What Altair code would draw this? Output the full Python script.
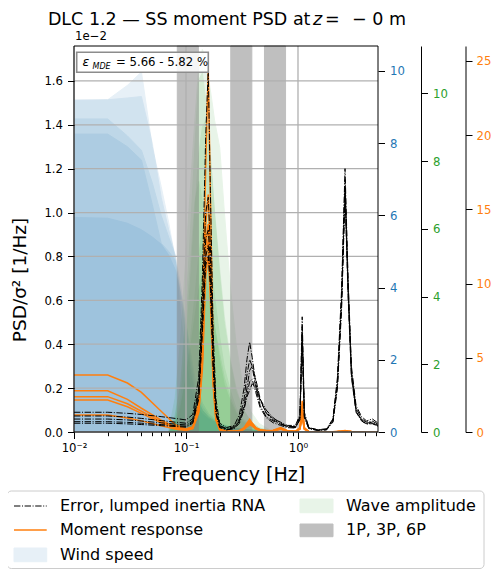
import altair as alt
import pandas as pd

FONT = "DejaVu Sans"
BLUE = "#1f77b4"
GREEN = "#2ca02c"
ORANGE = "#ff7f0e"

# ---------------- data ----------------
# frequency grid of the moment / error spectra [Hz]
F = [0.010, 0.020, 0.030, 0.040, 0.060, 0.080, 0.100, 0.115, 0.130, 0.140,
     0.150, 0.158, 0.165, 0.175, 0.185, 0.200, 0.230, 0.270, 0.300, 0.330,
     0.350, 0.370, 0.390, 0.420, 0.460, 0.520, 0.600, 0.700, 0.800, 0.950,
     1.040, 1.090, 1.140, 1.250, 1.500, 1.800, 2.050, 2.250, 2.450, 2.630,
     2.800, 3.000, 3.300, 3.700, 4.100, 4.600, 5.200]

# Error, lumped inertia RNA  (PSD/sigma^2, units of 1e-2 1/Hz)
ERR1 = [0.090, 0.090, 0.085, 0.080, 0.070, 0.062, 0.055, 0.080, 0.250, 0.700,
        1.350, 1.650, 1.100, 0.450, 0.150, 0.040, 0.020, 0.030, 0.080, 0.200,
        0.330, 0.410, 0.340, 0.220, 0.140, 0.090, 0.060, 0.045, 0.030, 0.030,
        0.080, 0.525, 0.090, 0.020, 0.010, 0.015, 0.060, 0.250, 0.650, 1.200,
        0.700, 0.300, 0.120, 0.070, 0.050, 0.060, 0.040]
ERR2 = [0.073, 0.073, 0.068, 0.062, 0.052, 0.045, 0.040, 0.060, 0.200, 0.600,
        1.000, 1.070, 0.850, 0.380, 0.120, 0.030, 0.015, 0.025, 0.060, 0.150,
        0.260, 0.330, 0.300, 0.200, 0.120, 0.070, 0.050, 0.035, 0.025, 0.025,
        0.070, 0.480, 0.080, 0.020, 0.010, 0.012, 0.055, 0.230, 0.620, 1.150,
        0.680, 0.280, 0.110, 0.060, 0.045, 0.050, 0.035]
ERR3 = [0.059, 0.059, 0.055, 0.050, 0.042, 0.036, 0.032, 0.050, 0.180, 0.520,
        0.880, 0.920, 0.780, 0.350, 0.110, 0.028, 0.012, 0.020, 0.050, 0.120,
        0.200, 0.280, 0.300, 0.240, 0.150, 0.085, 0.055, 0.038, 0.025, 0.022,
        0.065, 0.450, 0.075, 0.018, 0.008, 0.012, 0.050, 0.220, 0.600, 1.120,
        0.660, 0.270, 0.100, 0.055, 0.040, 0.045, 0.030]
ERR4 = [0.047, 0.047, 0.044, 0.040, 0.034, 0.029, 0.026, 0.045, 0.160, 0.480,
        0.800, 0.850, 0.700, 0.300, 0.090, 0.022, 0.010, 0.015, 0.040, 0.100,
        0.170, 0.230, 0.240, 0.180, 0.110, 0.065, 0.042, 0.030, 0.020, 0.018,
        0.060, 0.420, 0.070, 0.016, 0.008, 0.010, 0.048, 0.210, 0.580, 1.100,
        0.640, 0.260, 0.095, 0.050, 0.038, 0.040, 0.028]
ERR5 = [0.040, 0.040, 0.037, 0.034, 0.029, 0.025, 0.022, 0.040, 0.150, 0.450,
        0.760, 0.800, 0.660, 0.280, 0.085, 0.020, 0.010, 0.018, 0.050, 0.110,
        0.160, 0.190, 0.220, 0.200, 0.150, 0.100, 0.065, 0.040, 0.025, 0.020,
        0.055, 0.400, 0.065, 0.015, 0.007, 0.010, 0.045, 0.200, 0.560, 1.080,
        0.620, 0.250, 0.090, 0.050, 0.036, 0.038, 0.026]

# Moment response (orange axis)
MOM1 = [3.84, 3.84, 3.30, 2.67, 1.40, 0.50, 0.20, 0.35, 2.00, 7.00,
        18.0, 24.4, 16.0, 5.00, 1.20, 0.20, 0.05, 0.05, 0.10, 0.30,
        0.60, 0.85, 0.60, 0.30, 0.15, 0.10, 0.12, 0.30, 0.10, 0.05,
        0.30, 2.10, 0.30, 0.03, 0.01, 0.01, 0.02, 0.04, 0.06, 0.10,
        0.06, 0.03, 0.02, 0.01, 0.01, 0.01, 0.01]
MOM2 = [2.78, 2.78, 2.20, 1.60, 0.80, 0.35, 0.18, 0.30, 1.60, 5.50,
        14.0, 16.0, 12.0, 4.00, 1.00, 0.18, 0.05, 0.05, 0.08, 0.25,
        0.50, 0.70, 0.55, 0.28, 0.14, 0.09, 0.10, 0.25, 0.08, 0.04,
        0.25, 1.60, 0.25, 0.03, 0.01, 0.01, 0.02, 0.03, 0.05, 0.08,
        0.05, 0.03, 0.02, 0.01, 0.01, 0.01, 0.01]
MOM3 = [2.38, 2.38, 1.90, 1.40, 0.70, 0.30, 0.15, 0.28, 1.50, 5.00,
        12.5, 14.0, 10.5, 3.60, 0.90, 0.16, 0.04, 0.04, 0.07, 0.22,
        0.45, 0.62, 0.50, 0.25, 0.12, 0.08, 0.09, 0.22, 0.07, 0.04,
        0.22, 1.30, 0.22, 0.02, 0.01, 0.01, 0.02, 0.03, 0.05, 0.07,
        0.05, 0.03, 0.02, 0.01, 0.01, 0.01, 0.01]
MOM4 = [2.15, 2.15, 1.70, 1.25, 0.62, 0.27, 0.14, 0.25, 1.40, 4.60,
        11.5, 13.0, 9.80, 3.30, 0.85, 0.15, 0.04, 0.04, 0.07, 0.20,
        0.40, 0.55, 0.45, 0.22, 0.11, 0.07, 0.08, 0.20, 0.07, 0.03,
        0.20, 1.10, 0.20, 0.02, 0.01, 0.01, 0.02, 0.03, 0.04, 0.06,
        0.04, 0.02, 0.02, 0.01, 0.01, 0.01, 0.01]
MOM5 = [1.14, 1.14, 0.95, 0.75, 0.42, 0.20, 0.11, 0.22, 1.30, 4.20,
        10.5, 12.0, 9.00, 3.00, 0.80, 0.14, 0.04, 0.04, 0.06, 0.18,
        0.35, 0.48, 0.40, 0.20, 0.10, 0.06, 0.07, 0.18, 0.06, 0.03,
        0.18, 0.95, 0.18, 0.02, 0.01, 0.01, 0.02, 0.02, 0.04, 0.05,
        0.04, 0.02, 0.01, 0.01, 0.01, 0.01, 0.01]

# Wind speed spectra (blue axis)
FB = [0.01, 0.02, 0.03, 0.04, 0.05, 0.06, 0.07, 0.08, 0.09, 0.10, 0.11,
      0.12, 0.14, 0.16, 0.20, 0.25, 0.30, 0.40, 0.60, 1.00, 2.00, 5.20]
WIND1 = [9.20, 9.20, 9.60, 9.97, 7.90, 6.80, 5.80, 4.80, 3.20, 2.00, 1.20,
         0.80, 0.50, 0.35, 0.20, 0.12, 0.08, 0.05, 0.02, 0.01, 0.005, 0.002]
WIND2 = [9.18, 9.20, 9.25, 9.29, 8.00, 6.50, 5.60, 4.90, 3.60, 2.60, 1.60,
         1.00, 0.60, 0.40, 0.22, 0.13, 0.09, 0.05, 0.02, 0.01, 0.005, 0.002]
WIND3 = [8.67, 8.67, 8.20, 7.80, 6.90, 6.00, 5.40, 4.90, 4.00, 3.00, 2.00,
         1.30, 0.70, 0.45, 0.22, 0.13, 0.09, 0.05, 0.02, 0.01, 0.005, 0.002]
WIND4 = [8.25, 8.25, 7.90, 7.53, 6.30, 5.23, 5.00, 4.76, 3.80, 2.80, 1.80,
         1.10, 0.60, 0.40, 0.20, 0.12, 0.08, 0.05, 0.02, 0.01, 0.005, 0.002]
WIND5 = [5.94, 5.92, 5.78, 5.60, 5.40, 5.20, 4.90, 4.50, 3.80, 3.00, 2.20,
         1.50, 0.80, 0.50, 0.25, 0.14, 0.09, 0.05, 0.02, 0.01, 0.005, 0.002]

# Wave amplitude spectra (green axis)
FG = [0.07, 0.08, 0.09, 0.10, 0.11, 0.12, 0.13, 0.14, 0.15, 0.16,
      0.17, 0.18, 0.20, 0.22, 0.25, 0.28, 0.32, 0.38, 0.45, 0.55]
WAVE1 = [0.0, 1.0, 2.8, 5.2, 7.3, 9.2, 10.8, 11.3, 11.0, 10.4,
         9.8, 9.2, 8.4, 6.5, 4.2, 2.6, 1.4, 0.60, 0.25, 0.08]
WAVE2 = [0.0, 0.5, 1.5, 3.6, 6.0, 8.4, 10.4, 10.6, 9.8, 8.8,
         7.6, 6.4, 4.6, 3.2, 2.0, 1.2, 0.70, 0.30, 0.12, 0.04]
WAVE3 = [0.0, 0.3, 1.0, 2.6, 4.5, 6.5, 8.2, 9.0, 9.2, 8.6,
         7.6, 6.5, 4.8, 3.4, 2.1, 1.3, 0.70, 0.30, 0.12, 0.04]
WAVE4 = [0.0, 0.4, 1.4, 3.2, 5.0, 6.8, 7.4, 6.8, 5.8, 4.8,
         3.9, 3.1, 2.1, 1.4, 0.9, 0.55, 0.30, 0.14, 0.06, 0.02]
WAVE5 = [0.0, 0.2, 0.7, 1.6, 2.8, 4.0, 5.2, 6.0, 6.1, 5.6,
         4.8, 4.0, 2.8, 1.9, 1.2, 0.70, 0.40, 0.18, 0.08, 0.03]
WAVE6 = [0.0, 0.2, 0.8, 1.6, 2.5, 3.4, 4.2, 4.6, 4.5, 4.1,
         3.6, 3.1, 2.3, 1.6, 1.0, 0.60, 0.35, 0.16, 0.07, 0.02]

# 1P, 3P, 6P bands [Hz]
P_LO = [0.0836, 0.251, 0.502]
P_HI = [0.129, 0.387, 0.774]

# axis ticks
X_TICKS = [0.01, 0.02, 0.03, 0.04, 0.05, 0.06, 0.07, 0.08, 0.09,
           0.1, 0.2, 0.3, 0.4, 0.5, 0.6, 0.7, 0.8, 0.9, 1, 2, 3, 4, 5]
X_GRID = [0.01, 0.1, 1.0]
Y_TICKS = [0.0, 0.2, 0.4, 0.6, 0.8, 1.0, 1.2, 1.4, 1.6]
WIND_TICKS = [0, 2, 4, 6, 8, 10]
WAVE_TICKS = [0, 2, 4, 6, 8, 10]
MOM_TICKS = [0, 5, 10, 15, 20, 25]

X_DOMAIN = [0.01, 5.18]
Y_DOMAIN = [0, 1.759]
WIND_DOMAIN = [0, 10.69]
WAVE_DOMAIN = [0, 11.40]
MOM_DOMAIN = [0, 26.0]

W, H = 304, 386


def long(xs, series, prefix):
    rows = []
    for i, s in enumerate(series):
        assert len(s) == len(xs), (prefix, i, len(s), len(xs))
        for x, v in zip(xs, s):
            rows.append({"f": x, "v": v, "s": f"{prefix}{i}"})
    return pd.DataFrame(rows)


df_err = long(F, [ERR1, ERR2, ERR3, ERR4, ERR5], "e")
df_mom = long(F, [MOM1, MOM2, MOM3, MOM4, MOM5], "m")
df_wind = long(FB, [WIND1, WIND2, WIND3, WIND4, WIND5], "w")
df_wave = long(FG, [WAVE1, WAVE2, WAVE3, WAVE4, WAVE5, WAVE6], "g")
df_band = pd.DataFrame({"lo": P_LO, "hi": P_HI})
df_xgrid = pd.DataFrame({"f": X_GRID})
df_ygrid = pd.DataFrame({"v": Y_TICKS})
one = pd.DataFrame({"a": [0]})

XSCALE = alt.Scale(type="log", domain=X_DOMAIN, nice=False)
ISMAJ = "abs(log(datum.value)/LN10 - round(log(datum.value)/LN10)) < 0.001"

common_axis = dict(labelFont=FONT, labelFontSize=11.7, labelColor="black",
                   tickColor="black", tickWidth=1, tickSize=6.5,
                   labelPadding=5, grid=False, title=None, zindex=1)

xnone = alt.X("f:Q", scale=XSCALE, axis=None)

# wind (blue areas)
blue = alt.Chart(df_wind).mark_area(
    color=BLUE, opacity=0.1, stroke=BLUE, strokeWidth=1, clip=True,
    interpolate="linear"
).encode(
    x=xnone,
    y=alt.Y("v:Q", stack=None,
            scale=alt.Scale(domain=WIND_DOMAIN, nice=False),
            axis=alt.Axis(orient="right", values=WIND_TICKS, domain=False,
                          offset=0, **{**common_axis, "labelColor": BLUE})),
    detail="s:N",
)

# waves (green areas)
green = alt.Chart(df_wave).mark_area(
    color=GREEN, opacity=0.1, stroke=GREEN, strokeWidth=1, clip=True,
    interpolate="linear"
).encode(
    x=xnone,
    y=alt.Y("v:Q", stack=None,
            scale=alt.Scale(domain=WAVE_DOMAIN, nice=False),
            axis=alt.Axis(orient="right", values=WAVE_TICKS, domain=True,
                          domainColor="black", domainWidth=1, offset=43,
                          **{**common_axis, "labelColor": GREEN})),
    detail="s:N",
)

# rotor bands
bands = alt.Chart(df_band).mark_rect(
    color="gray", opacity=0.5, stroke="gray", strokeWidth=1
).encode(
    x=alt.X("lo:Q", scale=XSCALE, axis=None),
    x2="hi:Q",
)

# vertical grid
xgrid = alt.Chart(df_xgrid).mark_rule(color="#b0b0b0", strokeWidth=1.3).encode(
    x=alt.X("f:Q", scale=XSCALE, axis=None)
)

# moment response (orange axis)
orange = alt.Chart(df_mom).mark_line(
    color=ORANGE, strokeWidth=1.5, clip=True
).encode(
    x=xnone,
    y=alt.Y("v:Q", scale=alt.Scale(domain=MOM_DOMAIN, nice=False),
            axis=alt.Axis(orient="right", values=MOM_TICKS, domain=True,
                          domainColor="black", domainWidth=1, offset=87.5,
                          **{**common_axis, "labelColor": ORANGE,
                             "labelPadding": 4})),
    detail="s:N",
)

YLEFT = alt.Scale(domain=Y_DOMAIN, nice=False)
LEFT_AXIS = alt.Axis(orient="left", values=Y_TICKS, format=".1f",
                     domain=False, **common_axis)
ygrid = alt.Chart(df_ygrid).mark_rule(color="#b0b0b0", strokeWidth=1.3).encode(
    y=alt.Y("v:Q", scale=YLEFT, axis=LEFT_AXIS)
)
black = alt.Chart(df_err).mark_line(
    color="black", strokeWidth=1, strokeDash=[6.4, 1.6, 1, 1.6], clip=True
).encode(
    x=alt.X("f:Q", scale=XSCALE,
            axis=alt.Axis(
                values=X_TICKS, domain=False, labelFlush=False,
                labelOverlap=False,
                labelExpr=(f"{ISMAJ} ? (datum.value < 0.05 ? '10⁻²' : "
                           f"(datum.value < 0.5 ? '10⁻¹' : '10⁰')) : ''"),
                **{**common_axis,
                   "tickSize": {"condition": {"test": ISMAJ, "value": 6.5},
                                "value": 3.7},
                   "labelPadding": 4})),
    y=alt.Y("v:Q", scale=YLEFT, axis=LEFT_AXIS),
    detail="s:N",
)
left = alt.layer(ygrid, black)

# frame
frame = alt.Chart(one).mark_rect(fillOpacity=0, stroke="black", strokeWidth=1).encode(
    x=alt.value(0), x2=alt.value(W), y=alt.value(0), y2=alt.value(H)
)


def txt(s, x, y, size, align="left", baseline="alphabetic", style="normal",
        angle=0, color="black"):
    kw = dict(text=s, align=align, baseline=baseline, fontSize=size, font=FONT,
              fontStyle=style, color=color)
    if angle:
        kw["angle"] = angle
    return alt.Chart(one).mark_text(**kw).encode(x=alt.value(x), y=alt.value(y))


# annotation box
ann_box = alt.Chart(one).mark_rect(fill="white", fillOpacity=0.85,
                                   stroke="#8c8c8c", strokeWidth=1.6).encode(
    x=alt.value(2.7), x2=alt.value(134.3), y=alt.value(6.3), y2=alt.value(26.3))
ann = [ann_box,
       txt("ε", 8.5, 20, 12.5, style="italic"),
       txt("MDE", 18.5, 23, 8, style="italic"),
       txt("= 5.66 - 5.82 %", 42, 20, 11.7)]

# titles / labels
TY = -21.5
TS = 17.5
texts = [
    txt("DLC 1.2 — SS moment PSD at", 236.5, TY, TS, align="right"),
    txt("z", 239, TY, TS, style="italic"),
    txt("=", 251, TY, TS),
    txt("− 0 m", 278, TY, TS),
    txt("Frequency [Hz]", 159.5, 434.7, 19, align="center"),
    txt("PSD/σ² [1/Hz]", -48.5, 234, 18.5, align="center", angle=270),
    txt("1e−2", 1, -6, 11.7),
]

# legend
leg_box = alt.Chart(one).mark_rect(fill="white", stroke="#cccccc", strokeWidth=1,
                                   cornerRadius=4).encode(
    x=alt.value(-66.7), x2=alt.value(410), y=alt.value(445), y2=alt.value(522.5))
leg_err = alt.Chart(one).mark_rule(color="black", strokeWidth=1,
                                   strokeDash=[6.4, 1.6, 1, 1.6]).encode(
    x=alt.value(-60), x2=alt.value(-27.3), y=alt.value(460))
leg_mom = alt.Chart(one).mark_rule(color=ORANGE, strokeWidth=1.5).encode(
    x=alt.value(-60), x2=alt.value(-27.3), y=alt.value(484))
leg_wind = alt.Chart(one).mark_rect(color=BLUE, opacity=0.1, stroke=BLUE).encode(
    x=alt.value(-60), x2=alt.value(-27.3), y=alt.value(502), y2=alt.value(515.7))
leg_wave = alt.Chart(one).mark_rect(color=GREEN, opacity=0.1, stroke=GREEN).encode(
    x=alt.value(226), x2=alt.value(259), y=alt.value(453), y2=alt.value(466.7))
leg_p = alt.Chart(one).mark_rect(color="gray", opacity=0.5, stroke="gray").encode(
    x=alt.value(226), x2=alt.value(259), y=alt.value(478), y2=alt.value(490.7))
legend = [leg_box, leg_err, leg_mom, leg_wind, leg_wave, leg_p,
          txt("Error, lumped inertia RNA", -14, 460, 16, baseline="middle"),
          txt("Moment response", -14, 484, 16, baseline="middle"),
          txt("Wind speed", -14, 509, 16, baseline="middle"),
          txt("Wave amplitude", 272, 460, 16, baseline="middle"),
          txt("1P, 3P, 6P", 272, 484, 16, baseline="middle")]

chart = alt.layer(
    blue, green, bands, xgrid, orange, left, frame, *ann, *texts, *legend
).resolve_scale(
    y="independent"
).resolve_axis(
    x="independent", y="independent"
).properties(
    width=W, height=H,
    autosize=alt.AutoSizeParams(type="none"),
    padding={"left": 66, "top": 38, "right": 114, "bottom": 137},
).configure_view(stroke=None)

chart.save("out.html", embed_options={"renderer": "svg", "actions": False})
